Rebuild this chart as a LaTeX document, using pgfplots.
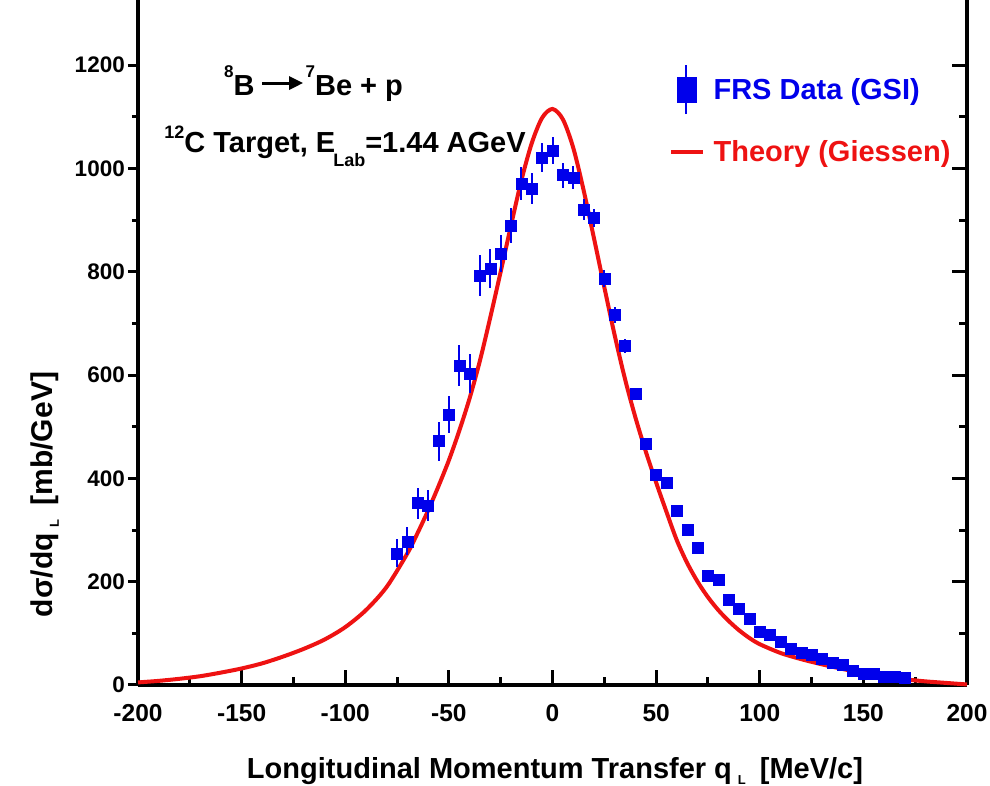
\documentclass[border=0pt]{standalone}
\usepackage{pgfplots}
\pgfplotsset{compat=1.18}
\usepackage{fontspec}
\setmainfont{Liberation Sans}
\usetikzlibrary{arrows.meta}
\definecolor{datablue}{RGB}{0,0,235}
\definecolor{theoryred}{RGB}{238,18,18}

\pgfplotstableread{
x y e
-75 255 27
-70 278 27
-65 352 30
-60 348 30
-55 472 38
-50 524 36
-45 619 40
-40 603 38
-35 793 40
-30 806 38
-25 835 36
-20 890 34
-15 971 32
-10 961 30
-5 1021 28
0 1035 26
5 987 24
10 982 22
15 921 20
20 904 18
25 787 16
30 716 16
35 656 14
40 563 12
45 468 11
50 408 10
55 392 10
60 337 9
65 301 9
70 266 8
75 211 8
80 204 8
85 165 7
90 148 7
95 128 7
100 103 7
105 97 6
110 84 6
115 71 6
120 63 6
125 58 6
130 50 6
135 44 6
140 40 6
145 27 6
150 22 6
155 21 6
160 17 6
165 16 6
170 14 6
}\datatable

\pgfplotstableread{
x y
-200 5
-190 8
-180 12
-170 17
-160 24
-150 32
-140 42
-130 55
-120 70
-110 88
-100 112
-90 145
-80 190
-70 255
-65 295
-60 338
-55 385
-50 435
-45 492
-40 555
-35 628
-30 712
-25 800
-20 890
-15 977
-10 1049
-5 1098
0 1115
5 1095
10 1040
15 958
20 865
25 770
30 677
35 592
40 518
45 452
50 392
55 335
60 280
65 236
70 200
75 170
80 145
85 124
90 106
95 91
100 79
110 62
120 50
130 40
140 31
150 23
160 16
170 11
180 7
190 4
200 1
}\theorytable

\begin{document}
\begin{tikzpicture}
% left ticks and labels (outside)
\begin{axis}[
  at={(138pt,101pt)}, anchor=south west,
  scale only axis, width=829pt, height=685pt,
  xmin=-200, xmax=200, ymin=0, ymax=1326,
  axis x line=none, axis y line*=left,
  axis line style={line width=3.5pt},
  tick align=outside,
  xtick=\empty,
  ytick={0,200,...,1200},
  yticklabels={0,200,400,600,800,1000,1200},
  minor y tick num=1,
  major tick length=10pt, minor tick length=6pt,
  every tick/.style={black, line width=3pt},
  yticklabel style={font=\bfseries\fontsize{22.5}{22.5}\selectfont, inner sep=0pt, xshift=-3pt},
  ylabel={dσ/dq\hspace{6pt}\raisebox{-6pt}{\fontsize{13}{13}\selectfont L}\hspace{14pt}[mb/GeV]},
  ylabel style={at={(axis description cs:0,0.278)}, anchor=base, yshift=85pt, font=\bfseries\fontsize{30}{30}\selectfont},
]
\end{axis}
% main axis
\begin{axis}[
  at={(138pt,101pt)}, anchor=south west,
  scale only axis, width=829pt, height=685pt,
  xmin=-200, xmax=200, ymin=0, ymax=1326,
  axis x line*=bottom, axis y line*=box,
  axis line style={line width=3.5pt},
  tick align=inside,
  xtick={-200,-150,...,200},
  xticklabels={-200,-150,-100,-50,0,50,100,150,200},
  minor x tick num=1,
  ytick={0,200,...,1200}, minor y tick num=1,
  ytick pos=right, yticklabels={},
  major tick length=15pt, minor tick length=8pt,
  every tick/.style={black, line width=3pt},
  xticklabel style={font=\bfseries\fontsize{24.5}{24.5}\selectfont, anchor=base, yshift=-37pt},
  xlabel={Longitudinal Momentum Transfer q\hspace{6pt}\raisebox{-6pt}{\fontsize{13}{13}\selectfont L}\hspace{14pt}[MeV/c]},
  xlabel style={at={(axis description cs:0.503,0)}, anchor=base, yshift=-94pt, font=\bfseries\fontsize{29}{29}\selectfont},
  clip=false,
  legend style={at={(axis cs:56.2,1202)}, anchor=north west, draw=none, fill=none, inner sep=0pt,
    font=\bfseries\fontsize{29}{29}\selectfont, row sep=23pt,
    /tikz/every odd column/.append style={column sep=6pt}},
  legend cell align=left,
]
\addplot[theoryred, line width=4pt, smooth, forget plot] table[x=x,y=y]{\theorytable};
\addplot[only marks, mark=square*, mark size=5.5pt, mark options={datablue, draw=datablue, fill=datablue},
  error bars/.cd, y dir=both, y explicit, error mark=none,
  error bar style={datablue, line width=2pt}]
  table[x=x, y=y, y error=e]{\datatable};
\addlegendimage{legend image code/.code={
  \draw[datablue, line width=2pt] (15pt,-24.5pt)--(15pt,24.5pt);
  \fill[datablue] (5.5pt,-12.5pt) rectangle (24.5pt,12.5pt);
  \path (-2pt,0pt) (34pt,0pt);}}
\addlegendimage{legend image code/.code={
  \draw[theoryred, line width=4pt] (0pt,0pt)--(32pt,0pt);}}
\legend{,\textcolor{datablue}{FRS Data (GSI)},\textcolor{theoryred}{Theory (Giessen)}}
\node[anchor=base west, font=\bfseries\fontsize{29}{29}\selectfont, inner sep=0pt] at (axis cs:-158.5,1142)
  {\raisebox{18pt}{\fontsize{17}{17}\selectfont 8}B\hspace{6pt}\tikz[baseline=0pt]{\draw[line width=3pt, -{Triangle[length=14pt,width=13pt]}] (0pt,12pt)--(41pt,12pt);}\hspace{1pt}\raisebox{18pt}{\fontsize{17}{17}\selectfont 7}Be + p};
\node[anchor=base west, font=\bfseries\fontsize{29}{29}\selectfont, inner sep=0pt] at (axis cs:-187.4,1031.5)
  {\raisebox{14pt}{\fontsize{18}{18}\selectfont 12}C Target, E\hspace{-2pt}\raisebox{-14pt}{\fontsize{18}{18}\selectfont Lab}=1.44 AGeV};
\end{axis}
\pgfresetboundingbox
\path (0pt,0pt) rectangle (990pt,786pt);
\end{tikzpicture}
\end{document}
